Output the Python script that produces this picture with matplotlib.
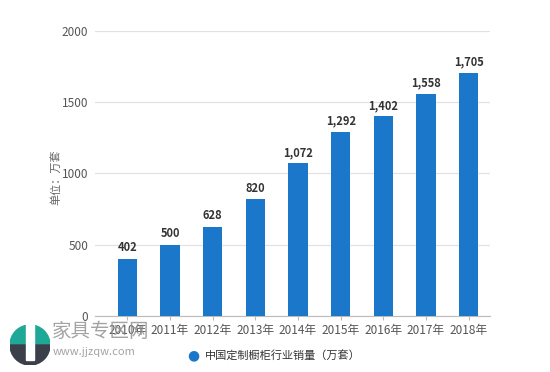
import matplotlib
matplotlib.use("Agg")
import matplotlib.pyplot as plt
from matplotlib.patches import Wedge, Rectangle

plt.rcParams['font.family'] = ['Noto Sans CJK SC', 'DejaVu Sans']

years = ['2010年', '2011年', '2012年', '2013年', '2014年', '2015年', '2016年', '2017年', '2018年']
values = [402, 500, 628, 820, 1072, 1292, 1402, 1558, 1705]
value_labels = ['402', '500', '628', '820', '1,072', '1,292', '1,402', '1,558', '1,705']
yticks = [0, 500, 1000, 1500, 2000]
series_name = '中国定制橱柜行业销量（万套）'
ylabel = '单位：万套'

bar_color = '#1a77c9'

fig = plt.figure(figsize=(5.5, 3.72), dpi=100)
ax = fig.add_axes([95/550, 1-316/372, (490-95)/550, (316-31)/372])

x = list(range(len(years)))
ax.bar(x, values, width=0.45, color=bar_color, zorder=3, label=series_name)
for xi, v, lab in zip(x, values, value_labels):
    ax.text(xi, v + 30, lab, ha='center', va='bottom', fontsize=8, fontweight='bold', color='#333333')

ax.set_xlim(-0.76, 8.5)
ax.set_ylim(0, 2000)
ax.set_yticks(yticks)
ax.set_yticklabels([str(t) for t in yticks])
ax.set_xticks(x)
ax.set_xticklabels(years)
ax.grid(axis='y', color='#e2e2e2', linewidth=0.9, zorder=0)
for s in ['top', 'right', 'left']:
    ax.spines[s].set_visible(False)
ax.spines['bottom'].set_color('#bbbbbb')
ax.tick_params(axis='y', length=0, labelsize=8.5, labelcolor='#555555', pad=5)
ax.tick_params(axis='x', length=3, color='#bbbbbb', labelsize=8.5, labelcolor='#555555', pad=3)
ax.set_ylabel(ylabel, fontsize=8, color='#666666')
ax.yaxis.set_label_coords((61 - 95) / 395, (316 - 177) / 285)

# legend
fig.text(193/550, 1-355/372, '●', color=bar_color, fontsize=10, ha='center', va='center', family=['DejaVu Sans'])
fig.text(205/550, 1-355/372, series_name, color='#333333', fontsize=8, ha='left', va='center')

# watermark (bottom-left)
fig.text(52/550, 1-331/372, '家具专区网', color='#8c8c8c', fontsize=14, ha='left', va='center', alpha=0.8)
fig.text(53/550, 1-352/372, 'www.jjzqw.com', color='#8c8c8c', fontsize=8, ha='left', va='center', alpha=0.8)
lax = fig.add_axes([10/550, 1-365/372, 40/550, 40/372])
lax.set_xlim(-1, 1); lax.set_ylim(-1, 1); lax.set_aspect('equal'); lax.axis('off')
lax.add_patch(Wedge((0, 0), 1, 0, 180, color='#1fa896'))
lax.add_patch(Wedge((0, 0), 1, 180, 360, color='#3a3f4a'))
lax.add_patch(Rectangle((-0.18, -0.75), 0.36, 1.75, color='white'))

fig.savefig('out.png', dpi=100)
